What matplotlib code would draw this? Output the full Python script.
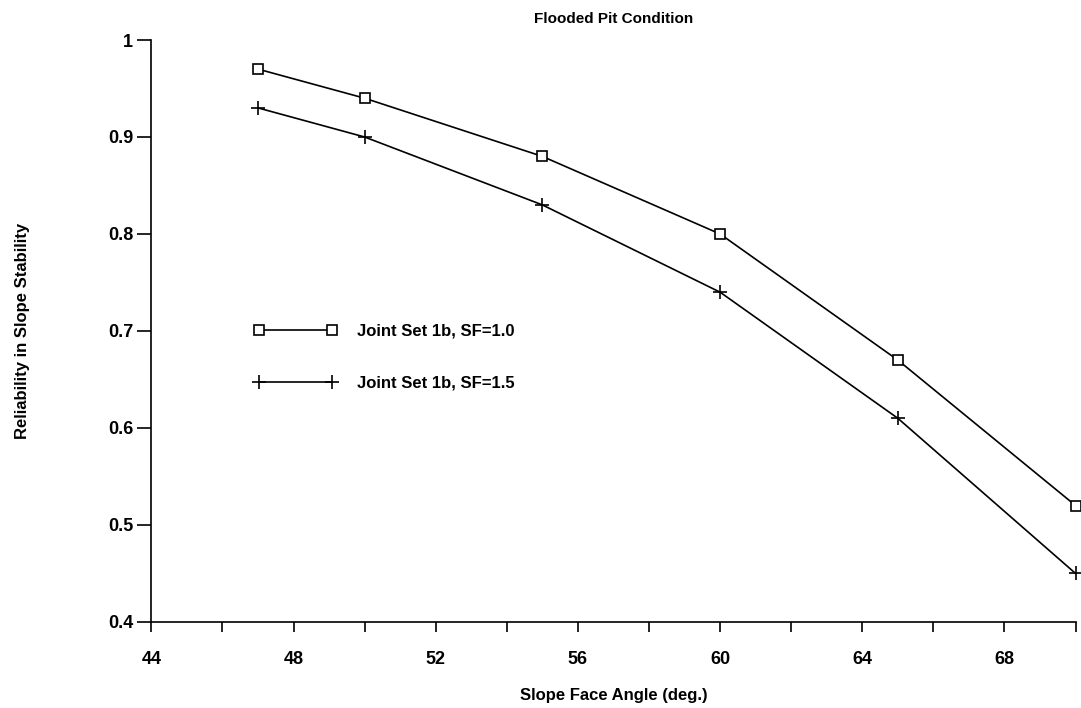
import matplotlib
matplotlib.use('Agg')
import matplotlib.pyplot as plt

# values
angle = [47, 50, 55, 60, 65, 70]
sf_10 = [0.97, 0.94, 0.88, 0.80, 0.67, 0.52]
sf_15 = [0.93, 0.90, 0.83, 0.74, 0.61, 0.45]

x_ticks = [44, 48, 52, 56, 60, 64, 68]
x_minor = [46, 50, 54, 58, 62, 66, 70]
y_ticks = [0.4, 0.5, 0.6, 0.7, 0.8, 0.9, 1.0]
y_labels = ['0.4', '0.5', '0.6', '0.7', '0.8', '0.9', '1']

plt.rcParams['font.family'] = ['Liberation Sans', 'DejaVu Sans']
plt.rcParams['font.weight'] = 'bold'

fig = plt.figure(figsize=(10.81, 7.08), dpi=100)
ax = fig.add_axes([0.140, 0.1215, 0.855, 0.822])

ax.plot(angle, sf_10, color='black', lw=1.2, marker='s', ms=7,
        mfc='white', mec='black', mew=1.2, label='Joint Set 1b, SF=1.0', clip_on=False)
ax.plot(angle, sf_15, color='black', lw=1.2, marker='+', ms=10,
        mew=1.2, label='Joint Set 1b, SF=1.5', clip_on=False)

ax.set_xlim(44, 70)
ax.set_ylim(0.4, 1.0)
ax.set_xticks(x_ticks)
ax.set_xticks(x_minor, minor=True)
ax.set_yticks(y_ticks)
ax.set_yticklabels(y_labels)
ax.tick_params(axis='both', which='both', direction='out', labelsize=13, width=1.2)
ax.tick_params(axis='x', which='major', length=7, pad=14)
ax.tick_params(axis='x', which='minor', length=7)
ax.tick_params(axis='y', length=10, pad=3)
for s in ['top', 'right']:
    ax.spines[s].set_visible(False)
for s in ['left', 'bottom']:
    ax.spines[s].set_linewidth(1.2)

ax.set_title('Flooded Pit Condition', fontsize=11, fontweight='bold', pad=12)
ax.set_xlabel('Slope Face Angle (deg.)', fontsize=12, fontweight='bold', labelpad=14)
ax.set_ylabel('Reliability in Slope Stability', fontsize=12, fontweight='bold', labelpad=56)

ax.legend(loc='upper left', bbox_to_anchor=(0.095, 0.538), frameon=False,
          numpoints=2, handlelength=5.0, handletextpad=1.2, labelspacing=2.2,
          prop={'size': 12, 'weight': 'bold'})

fig.savefig('out.png', dpi=100)
